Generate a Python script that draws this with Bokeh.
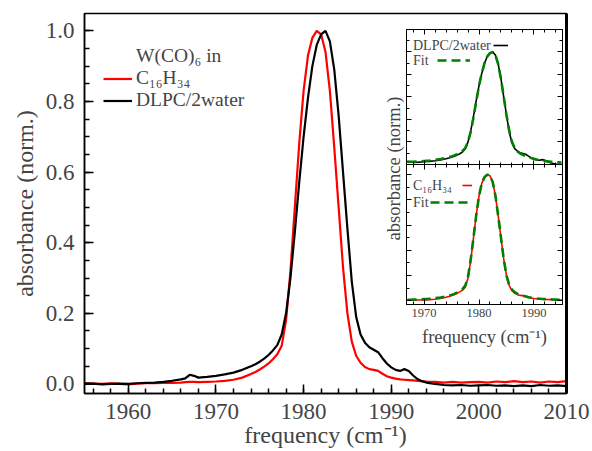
import math
from bokeh.plotting import figure
from bokeh.models import (Range1d, LinearAxis, Legend, LegendItem, Label, FixedTicker,
                          SingleIntervalTicker, PrintfTickFormatter, ColumnDataSource,
                          CustomJSTickFormatter)
from bokeh.layouts import column
from bokeh.embed import file_html
from bokeh.resources import INLINE

FONT = "Liberation Serif"

# ---------------- data ----------------
freq = [1955, 1956, 1957, 1958, 1959, 1960, 1961, 1962, 1963, 1964, 1965, 1966,
        1966.5, 1967, 1967.5, 1968,
        1969, 1970, 1971, 1972, 1973, 1974,
        1974.5, 1975, 1975.5, 1976, 1976.5, 1977, 1977.5, 1978, 1978.5, 1979,
        1979.5, 1980, 1980.5, 1981, 1981.5, 1982, 1982.5, 1983, 1983.5, 1984,
        1984.5, 1985, 1985.5, 1986, 1986.5, 1987, 1987.5, 1988, 1988.5, 1989,
        1989.5, 1990, 1990.5, 1991, 1991.5, 1992, 1992.5,
        1993, 1993.5, 1994,
        1995, 1996, 1997, 1998, 1999, 2000, 2001, 2002, 2003, 2004, 2005, 2006,
        2007, 2008, 2009, 2010]

abs_c16h34 = [0.002, 0.001, 0.000, 0.002, 0.000, -0.001, 0.001, 0.002, 0.002, 0.003, 0.003, 0.004,
              0.005, 0.006, 0.006, 0.005,
              0.006, 0.007, 0.009, 0.012, 0.018, 0.028,
              0.034, 0.041, 0.049, 0.058, 0.070, 0.084, 0.108, 0.180, 0.320, 0.500,
              0.680, 0.830, 0.930, 0.980, 1.000, 0.990, 0.940, 0.830, 0.670, 0.500,
              0.330, 0.200, 0.120, 0.080, 0.060, 0.048, 0.042, 0.040, 0.037, 0.029,
              0.022, 0.018, 0.015, 0.013, 0.012, 0.011, 0.010,
              0.009, 0.008, 0.007,
              0.006, 0.004, 0.006, 0.004, 0.005, 0.006, 0.004, 0.007, 0.005, 0.008, 0.005, 0.007,
              0.004, 0.007, 0.005, 0.008]

abs_dlpc = [0.000, 0.001, -0.001, 0.000, 0.001, 0.000, 0.002, 0.003, 0.004, 0.006, 0.009, 0.013,
            0.016, 0.026, 0.023, 0.018,
            0.020, 0.023, 0.027, 0.032, 0.040, 0.050,
            0.056, 0.063, 0.072, 0.082, 0.095, 0.110, 0.140, 0.200, 0.300, 0.430,
            0.570, 0.700, 0.810, 0.900, 0.960, 0.990, 1.000, 0.970, 0.890, 0.760,
            0.600, 0.440, 0.290, 0.190, 0.140, 0.117, 0.104, 0.097, 0.090, 0.073,
            0.058, 0.047, 0.040, 0.037, 0.042, 0.037, 0.024,
            0.014, 0.008, 0.004,
            0.000, -0.003, -0.004, -0.003, -0.005, -0.004, -0.003, -0.005, -0.004, -0.006, -0.004, -0.006,
            -0.003, -0.005, -0.004, -0.006]

fit_freq = [1967.0, 1967.5, 1968.0, 1968.5, 1969.0, 1969.5, 1970.0, 1970.5, 1971.0, 1971.5,
            1972.0, 1972.5, 1973.0, 1973.5, 1974.0, 1974.5, 1975.0, 1975.5, 1976.0, 1976.5,
            1977.0, 1977.5, 1978.0, 1978.5, 1979.0, 1979.5, 1980.0, 1980.5, 1981.0, 1981.5,
            1982.0, 1982.5, 1983.0, 1983.5, 1984.0, 1984.5, 1985.0, 1985.5, 1986.0, 1986.5,
            1987.0, 1987.5, 1988.0, 1988.5, 1989.0, 1989.5, 1990.0, 1990.5, 1991.0, 1991.5,
            1992.0, 1992.5, 1993.0, 1993.5, 1994.0, 1994.5, 1995.0]

fit_dlpc = [0.022, 0.023, 0.024, 0.025, 0.026, 0.028, 0.030, 0.032, 0.034, 0.037,
            0.040, 0.044, 0.048, 0.053, 0.058, 0.064, 0.071, 0.080, 0.090, 0.103,
            0.120, 0.145, 0.200, 0.290, 0.420, 0.560, 0.700, 0.810, 0.900, 0.960,
            0.990, 1.000, 0.970, 0.890, 0.760, 0.600, 0.440, 0.300, 0.200, 0.145,
            0.115, 0.097, 0.085, 0.074, 0.064, 0.056, 0.049, 0.043, 0.038, 0.034,
            0.030, 0.027, 0.024, 0.022, 0.020, 0.018, 0.016]

fit_c16h34 = [0.008, 0.008, 0.009, 0.010, 0.011, 0.012, 0.013, 0.014, 0.016, 0.018,
              0.020, 0.023, 0.026, 0.030, 0.034, 0.040, 0.046, 0.054, 0.064, 0.076,
              0.092, 0.120, 0.190, 0.330, 0.500, 0.680, 0.830, 0.930, 0.980, 1.000,
              0.990, 0.940, 0.830, 0.670, 0.500, 0.330, 0.200, 0.125, 0.088, 0.068,
              0.055, 0.046, 0.039, 0.033, 0.028, 0.024, 0.021, 0.018, 0.016, 0.014,
              0.013, 0.012, 0.011, 0.010, 0.009, 0.008, 0.008]

inset_lo, inset_hi = 1966.8, 1995.2

NO_LABELS = CustomJSTickFormatter(code="return ''")

# border sizes shared by all plots of the column (Bokeh aligns them)
BL, BR = 84, 26


# ---------------- helpers ----------------
def style_axis(ax, tick_in=5, minor_in=3, show_labels=True, lw=1.0, fs="12.5px"):
    ax.major_tick_in = tick_in
    ax.major_tick_out = 0
    ax.minor_tick_in = minor_in
    ax.minor_tick_out = 0
    ax.axis_line_width = lw
    ax.major_tick_line_width = lw
    ax.minor_tick_line_width = lw
    ax.major_label_text_font = FONT
    ax.major_label_text_font_size = fs
    ax.axis_label_text_font = FONT
    ax.axis_label_text_font_style = "normal"
    if not show_labels:
        ax.formatter = NO_LABELS
        ax.major_label_standoff = 0


# ---------------- main plot ----------------
p = figure(width=592, height=451,
           x_range=Range1d(1955, 2010), y_range=Range1d(-0.027, 1.049),
           output_backend="svg", toolbar_location=None,
           min_border_left=BL, min_border_right=BR, min_border_top=13, min_border_bottom=58)
p.xgrid.visible = False
p.ygrid.visible = False
p.outline_line_color = "black"
p.outline_line_width = 1.5

p.xaxis.ticker = SingleIntervalTicker(interval=10, num_minor_ticks=5)
p.yaxis.ticker = SingleIntervalTicker(interval=0.2, num_minor_ticks=4)
p.yaxis.formatter = PrintfTickFormatter(format="%.1f")
for ax in p.xaxis + p.yaxis:
    style_axis(ax, tick_in=9, minor_in=5, lw=1.5, fs="23px")
p.xaxis.axis_label = "frequency (cm⁻¹)"
p.yaxis.axis_label = "absorbance (norm.)"
p.xaxis.axis_label_text_font_size = "24px"
p.yaxis.axis_label_text_font_size = "24px"
p.xaxis.major_label_standoff = 10
p.yaxis.major_label_standoff = 10
p.xaxis.axis_label_standoff = 0
p.yaxis.axis_label_standoff = 5

rax = LinearAxis(ticker=FixedTicker(ticks=[]), major_tick_in=0, major_tick_out=0,
                 minor_tick_in=0, minor_tick_out=0, axis_line_width=3)
p.add_layout(rax, "right")

src = ColumnDataSource(dict(f=freq, c16=abs_c16h34, dlpc=abs_dlpc))
r_dummy = p.line([], [], line_alpha=0)
r_red = p.line("f", "c16", source=src, line_color="#ff0000", line_width=2.2)
r_blk = p.line("f", "dlpc", source=src, line_color="black", line_width=2.2)

leg = Legend(items=[LegendItem(label="W(CO)₆ in", renderers=[r_dummy]),
                    LegendItem(label="C₁₆H₃₄", renderers=[r_red]),
                    LegendItem(label="DLPC/2water", renderers=[r_blk])],
             location=(19, 282), padding=0, margin=0, spacing=0,
             glyph_width=29, glyph_height=21, label_height=21, label_standoff=4,
             label_text_font=FONT, label_text_font_size="19.5px",
             border_line_alpha=0, background_fill_alpha=0)
p.add_layout(leg)

p.add_layout(Label(x=309, y=225, x_units="screen", y_units="screen",
                   text="absorbance (norm.)", angle=math.pi / 2,
                   text_align="center", text_baseline="middle",
                   text_font=FONT, text_font_size="18.5px"))

# ---------------- inset panels ----------------
in_x_ticker = SingleIntervalTicker(interval=10, num_minor_ticks=5)
in_y_ticker = SingleIntervalTicker(interval=0.2, num_minor_ticks=2)

IN_FRAME_LEFT = 405.5
IN_FRAME_W = 156


def make_inset(y_range, frame_top, frame_h, bottom_border, show_x_labels):
    f = figure(width=BL + IN_FRAME_W + BR, height=20 + frame_h + bottom_border,
               x_range=Range1d(inset_lo, inset_hi), y_range=y_range,
               output_backend="svg", toolbar_location=None,
               min_border_left=BL, min_border_right=BR, min_border_top=20,
               min_border_bottom=bottom_border,
               border_fill_color=None, background_fill_color="white",
               styles={"position": "absolute",
                       "left": f"{IN_FRAME_LEFT - BL}px",
                       "top": f"{frame_top - 20}px"})
    f.xgrid.visible = False
    f.ygrid.visible = False
    f.outline_line_color = "black"
    f.outline_line_width = 1
    bx = f.xaxis[0]
    ly = f.yaxis[0]
    bx.ticker = in_x_ticker
    ly.ticker = in_y_ticker
    style_axis(bx, show_labels=show_x_labels)
    style_axis(ly, show_labels=False)
    ra = LinearAxis(ticker=in_y_ticker)
    style_axis(ra, show_labels=False)
    f.add_layout(ra, "right")
    ta = LinearAxis(ticker=in_x_ticker)
    style_axis(ta, show_labels=False)
    f.add_layout(ta, "above")
    return f, bx


def key(fig, renderer, x, yc, w):
    lg = Legend(items=[LegendItem(label=" ", renderers=[renderer])],
                location=(x, yc - 5), padding=0, margin=0, spacing=0,
                glyph_width=w, glyph_height=10, label_height=10, label_width=0,
                label_standoff=0, label_text_font_size="1px",
                border_line_alpha=0, background_fill_alpha=0)
    fig.add_layout(lg)


def text(fig, s, x, yc):
    fig.add_layout(Label(x=x, y=yc, x_units="screen", y_units="screen", text=s,
                         text_baseline="middle", text_font=FONT, text_font_size="14px"))


fsrc_d = ColumnDataSource(dict(f=fit_freq, y=fit_dlpc))
fsrc_c = ColumnDataSource(dict(f=fit_freq, y=fit_c16h34))

top, top_bx = make_inset(Range1d(-0.01, 1.2), 29, 136, 20, False)
t_blk = top.line("f", "dlpc", source=src, line_color="black", line_width=1.6)
t_fit = top.line("f", "y", source=fsrc_d, line_color="#008000", line_width=2.6, line_dash="9 5")
text(top, "DLPC/2water", 6.5, 120.5)
key(top, t_blk, 87.5, 120.5, 15)
text(top, "Fit", 6.5, 105.5)
key(top, t_fit, 31.5, 105.5, 33)

bot, bot_bx = make_inset(Range1d(-0.03, 1.08), 164, 140, 60, True)
bot_bx.axis_label = "frequency (cm⁻¹)"
bot_bx.axis_label_text_font_size = "18.5px"
bot_bx.major_label_standoff = 4
bot_bx.axis_label_standoff = 7
b_red = bot.line("f", "c16", source=src, line_color="#ff0000", line_width=1.6)
b_fit = bot.line("f", "y", source=fsrc_c, line_color="#008000", line_width=2.6, line_dash="9 5")
text(bot, "C₁₆H₃₄", 6.5, 119)
key(bot, b_red, 56.5, 119, 10)
text(bot, "Fit", 6.5, 102)
key(bot, b_fit, 24.5, 102, 41)

layout = column(p, top, bot, styles={"position": "relative"})
open("out.html", "w").write(file_html(layout, INLINE))
